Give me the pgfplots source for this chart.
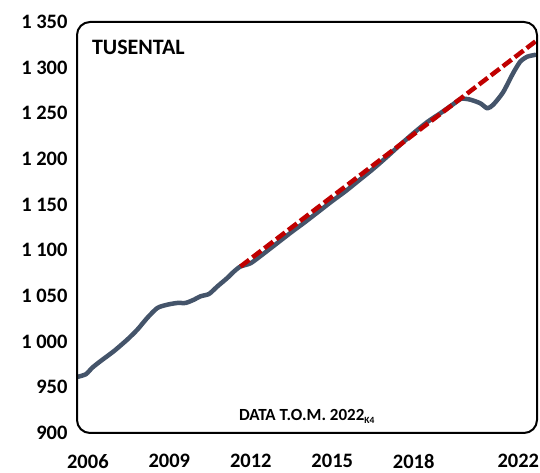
\documentclass[border=0pt]{standalone}
\usepackage{fontspec}
\setmainfont{Carlito}
\usepackage{pgfplots}
\pgfplotsset{compat=1.18}
\definecolor{slateLine}{RGB}{68,84,106}
\definecolor{trendRed}{RGB}{192,0,0}

\begin{document}
\begin{tikzpicture}
\begin{axis}[
    scale only axis, width=460pt, height=411pt,
    xmin=2005.6, xmax=2022.54, ymin=900, ymax=1350,
    axis line style={draw=none}, tick style={draw=none},
    xtick={2006,2009,2012,2015,2018,2021.85},
    xticklabels={2006,2009,2012,2015,2018,2022},
    ytick={900,950,1000,1050,1100,1150,1200,1250,1300,1350},
    yticklabels={900,950,1 000,1 050,1 100,1 150,1 200,1 250,1 300,1 350},
    ticklabel style={font=\fontsize{20.5}{20.5}\selectfont\bfseries},
    xticklabel style={yshift=-18pt},
    yticklabel style={xshift=-6pt},
]
\addplot[slateLine, line width=4.5pt, line join=round, line cap=round, smooth, tension=0.4] coordinates {
(2005.64,961.6) (2005.93,964.4) (2006.17,971.7) (2006.48,979) (2006.97,989.9)
(2007.46,1002.5) (2007.83,1013.4) (2008.19,1026.1) (2008.56,1036.9) (2008.93,1040.5)
(2009.30,1042.4) (2009.60,1042.4) (2009.91,1046) (2010.15,1049.7) (2010.46,1052.2)
(2010.77,1060.5) (2011.13,1069.6) (2011.38,1076.8) (2011.62,1082.3) (2012.0,1086)
(2012.5,1097) (2013.0,1108.5) (2013.5,1120) (2014.0,1131) (2014.5,1142.5)
(2015.0,1154) (2015.5,1165) (2016.0,1177) (2016.5,1189) (2017.0,1202)
(2017.5,1215.5) (2018.0,1228.5) (2018.5,1240.5) (2019.0,1250.5) (2019.5,1261)
(2019.75,1266) (2020.08,1265) (2020.45,1261) (2020.71,1255.5) (2020.93,1259.5)
(2021.29,1273) (2021.66,1294) (2021.92,1306.5) (2022.18,1312) (2022.47,1314)
};
% trend
\addplot[trendRed, line width=4.5pt, dash pattern=on 11pt off 4pt] coordinates {
(2011.62,1082.3) (2022.54,1330)
};
\node[anchor=west, font=\fontsize{22}{22}\selectfont\bfseries] at (rel axis cs:0.025,0.939) {TUSENTAL};
\node[anchor=base, font=\fontsize{17}{17}\selectfont\bfseries] at (rel axis cs:0.5,0.03) {DATA T.O.M. 2022\textsubscript{\fontsize{9.5}{9.5}\selectfont K4}};
\coordinate (ll) at (rel axis cs:0,0);
\coordinate (ur) at (rel axis cs:1,1);
\coordinate (bbll) at (rel axis cs:-0.1674,-0.0973);
\coordinate (bbur) at (rel axis cs:1.0065,1.0535);
\end{axis}
\draw[line width=2pt, rounded corners=13pt] (ll) rectangle (ur);
\pgfresetboundingbox
\path (bbll) rectangle (bbur);
\end{tikzpicture}
\end{document}
